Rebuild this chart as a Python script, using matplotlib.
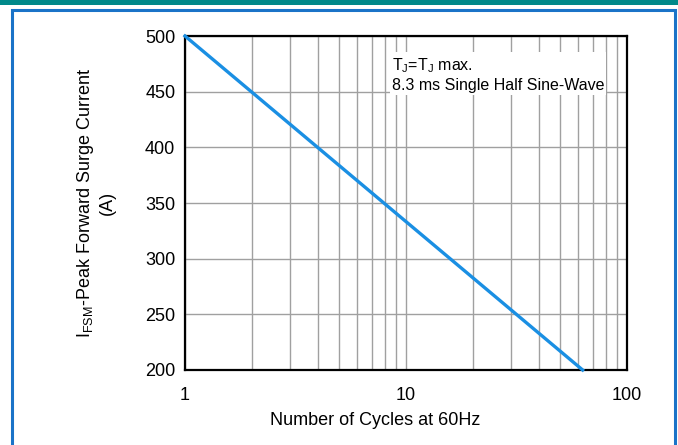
"""Peak forward surge current vs number of cycles."""

import matplotlib.pyplot as plt
from matplotlib.patches import Rectangle
from matplotlib.ticker import FixedLocator, NullFormatter

plt.rcParams["font.family"] = ["Liberation Sans", "DejaVu Sans"]

cycles = [1, 63]
surge_current = [500, 200]
x_ticks = [1, 10, 100]
y_ticks = [200, 250, 300, 350, 400, 450, 500]
minor_x = [2, 3, 4, 5, 6, 7, 8, 9, 20, 30, 40, 50, 60, 70, 80, 90]

W, H = 678, 445
fig = plt.figure(figsize=(W / 100, H / 100), dpi=100)

# page decoration: teal strip and blue frame
fig.patches.append(Rectangle((0, 1 - 5 / H), 1, 5 / H, transform=fig.transFigure,
                             facecolor="#00898a", edgecolor="none"))
fig.patches.append(Rectangle((12 / W, -0.05), (675 - 12) / W, 1.05 - 10 / H,
                             transform=fig.transFigure, facecolor="none",
                             edgecolor="#1a73c8", lw=2.2))

ax = fig.add_axes([185 / W, 1 - 370 / H, (627 - 185) / W, (370 - 36) / H])
ax.set_xscale("log")
ax.set_xlim(1, 100)
ax.set_ylim(200, 500)

ax.xaxis.set_major_locator(FixedLocator(x_ticks))
ax.xaxis.set_minor_locator(FixedLocator(minor_x))
ax.xaxis.set_minor_formatter(NullFormatter())
ax.set_xticklabels([str(v) for v in x_ticks])
ax.set_yticks(y_ticks)

ax.grid(True, which="both", axis="x", color="#a0a0a0", lw=1.0)
ax.grid(True, which="major", axis="y", color="#a0a0a0", lw=1.0)
ax.tick_params(which="both", length=0, labelsize=13)
ax.tick_params(axis="x", pad=12)
ax.tick_params(axis="y", pad=7)
for spine in ax.spines.values():
    spine.set_linewidth(1.6)

ax.plot(cycles, surge_current, color="#1a8fe3", lw=2.4, clip_on=False, zorder=3)

ax.set_xlabel("Number of Cycles at 60Hz", fontsize=13)
ax.xaxis.set_label_coords((375 - 185) / 442, (370 - 412) / 334)
ax.set_ylabel("I$_{\\mathregular{FSM}}$-Peak Forward Surge Current\n(A)", fontsize=13,
              linespacing=1.2)
ax.yaxis.set_label_coords((116 - 185) / 442, 0.5)

ax.text((392 - 185) / 442, (370 - 56) / 334,
        "T$_{\\mathregular{J}}$=T$_{\\mathregular{J}}$ max.\n8.3 ms Single Half Sine-Wave",
        transform=ax.transAxes, ha="left", va="top", fontsize=11.5, linespacing=1.25,
        bbox={"boxstyle": "square,pad=0.12", "fc": "white", "ec": "none"}, zorder=4)

fig.savefig("out.png", dpi=100)
